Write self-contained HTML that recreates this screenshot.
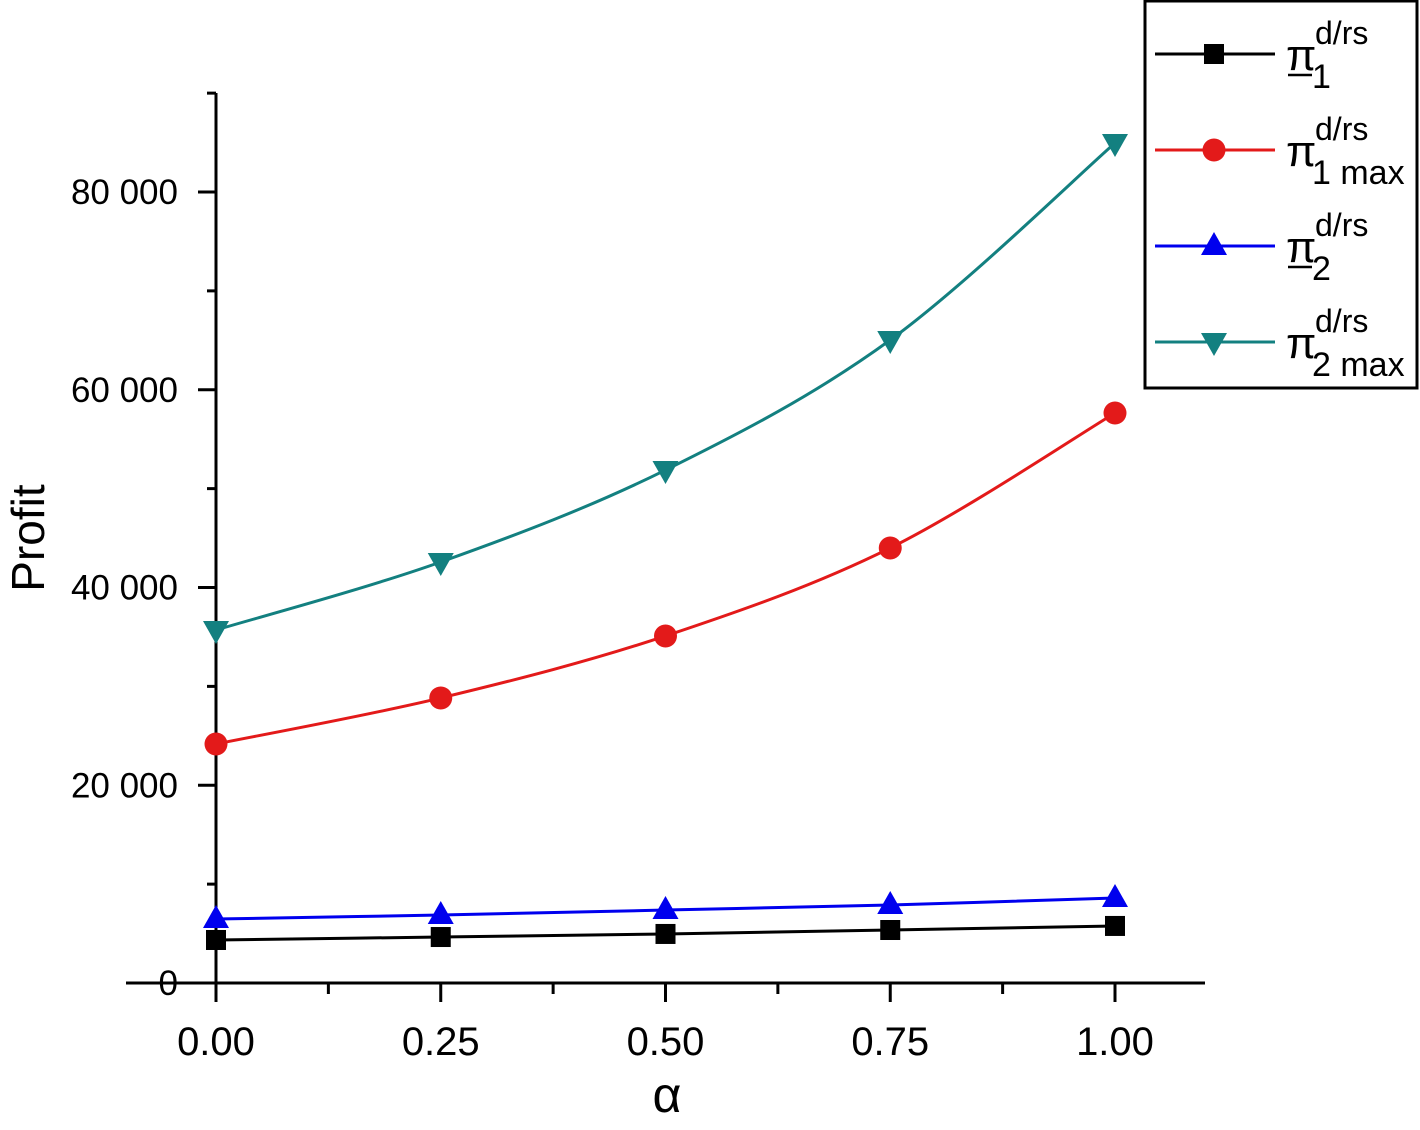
<!DOCTYPE html>
<html><head><meta charset="utf-8"><style>
body{margin:0;background:#fff;}
svg text{font-family:"Liberation Sans",sans-serif;}
</style></head><body>
<svg id="chart" width="1420" height="1125" xmlns="http://www.w3.org/2000/svg">
<g id="axes"></g>
<g id="series"></g>
<text x="667" y="1112" font-size="50" text-anchor="middle" font-family="Liberation Serif">α</text>
<text transform="translate(44,538) rotate(-90)" font-size="46" text-anchor="middle">Profit</text>
<g id="legend">
<rect x="1145" y="1" width="272" height="387" fill="#fff" stroke="#000" stroke-width="3"/>
</g>
</svg>
<script>
const alphas=[0,0.25,0.5,0.75,1];
const pi1=[4350,4650,4960,5360,5770];
const pi1max=[24170,28830,35100,44000,57650];
const pi2=[6470,6880,7380,7890,8600];
const pi2max=[35700,42580,51880,65030,84950];
const xTicks=["0.00","0.25","0.50","0.75","1.00"];
const yTicks=["0","20 000","40 000","60 000","80 000"];
const yTickVals=[0,20000,40000,60000,80000];
const NS="http://www.w3.org/2000/svg";
function X(a){return 216+a*899;}
function Y(v){return 983-v*(791/80000);}
function mk(tag,attrs,parent){const e=document.createElementNS(NS,tag);for(const k in attrs)e.setAttribute(k,attrs[k]);parent.appendChild(e);return e;}
const axes=document.getElementById('axes');
let l=mk('line',{x1:216,y1:93,x2:216,y2:985,stroke:'#000','stroke-width':3},axes);


l=mk('line',{x1:126,y1:983,x2:1205,y2:983,stroke:'#000','stroke-width':3},axes);


for(let v=10000;v<=90000;v+=10000){
  const major=v%20000===0;
  mk('line',{x1:major?198:207,y1:Y(v),x2:216,y2:Y(v),stroke:'#000','stroke-width':3},axes);
}
yTicks.forEach((t,i)=>{
  const e=mk('text',{x:178,y:Y(yTickVals[i])+12,'font-size':35,'text-anchor':'end'},axes);
  e.textContent=t;
  
  
});
for(let a=0;a<=1.0001;a+=0.125){
  const major=Math.abs(a*4-Math.round(a*4))<1e-6;
  mk('line',{x1:X(a),y1:983,x2:X(a),y2:major?1002:994,stroke:'#000','stroke-width':3},axes);
}
xTicks.forEach((t,i)=>{
  const e=mk('text',{x:X(alphas[i]),y:1055,'font-size':40,'text-anchor':'middle'},axes);
  e.textContent=t;
  
  
});
function smooth(pts){
  let d='M'+pts[0][0]+','+pts[0][1];
  for(let i=0;i<pts.length-1;i++){
    const p0=pts[i-1]||pts[i],p1=pts[i],p2=pts[i+1],p3=pts[i+2]||p2;
    const c1=[p1[0]+(p2[0]-p0[0])/6,p1[1]+(p2[1]-p0[1])/6];
    const c2=[p2[0]-(p3[0]-p1[0])/6,p2[1]-(p3[1]-p1[1])/6];
    d+=' C'+c1+' '+c2+' '+p2;
  }
  return d;
}
function marker(g,type,x,y,color){
  if(type==='sq')return mk('rect',{x:x-10,y:y-10,width:20,height:20,fill:color},g);
  if(type==='ci')return mk('circle',{cx:x,cy:y,r:11.5,fill:color},g);
  if(type==='up')return mk('polygon',{points:`${x},${y-14} ${x-13},${y+9} ${x+13},${y+9}`,fill:color},g);
  return mk('polygon',{points:`${x},${y+14} ${x-13},${y-9} ${x+13},${y-9}`,fill:color},g);
}
const seriesDefs=[
  {vals:pi1,color:'#000',m:'sq',name:'pi1'},
  {vals:pi1max,color:'#e31a1a',m:'ci',name:'pi1-max'},
  {vals:pi2,color:'#0000ee',m:'up',name:'pi2'},
  {vals:pi2max,color:'#138080',m:'dn',name:'pi2-max'}
];
const sg=document.getElementById('series');
seriesDefs.forEach(s=>{
  const g=mk('g',{},sg);
  
  
  const pts=alphas.map((a,i)=>[X(a),Y(s.vals[i])]);
  const p=mk('path',{d:smooth(pts),fill:'none',stroke:s.color,'stroke-width':3},g);
  
  
  pts.forEach(pt=>{
    const m=marker(g,s.m,pt[0],pt[1],s.color);
    
    
  });
});
const lg=document.getElementById('legend');
const labels=[['1',true],['1 max',false],['2',true],['2 max',false]];
seriesDefs.forEach((s,i)=>{
  const cy=54+i*96;
  const g=mk('g',{},lg);
  
  
  mk('line',{x1:1155,y1:cy,x2:1275,y2:cy,stroke:s.color,'stroke-width':3},g);
  marker(g,s.m,1214,cy,s.color);
  const t=mk('text',{x:1286,y:cy+16,'font-size':44},g);
  t.textContent='π';
  const sup=mk('text',{x:1315,y:cy-10,'font-size':32},g);
  sup.textContent='d/rs';
  const sub=mk('text',{x:1312,y:cy+34,'font-size':34},g);
  sub.textContent=labels[i][0];
  if(labels[i][1])mk('line',{x1:1288,y1:cy+21,x2:1312,y2:cy+21,stroke:'#000','stroke-width':2.5},g);
});
</script>
</body></html>
